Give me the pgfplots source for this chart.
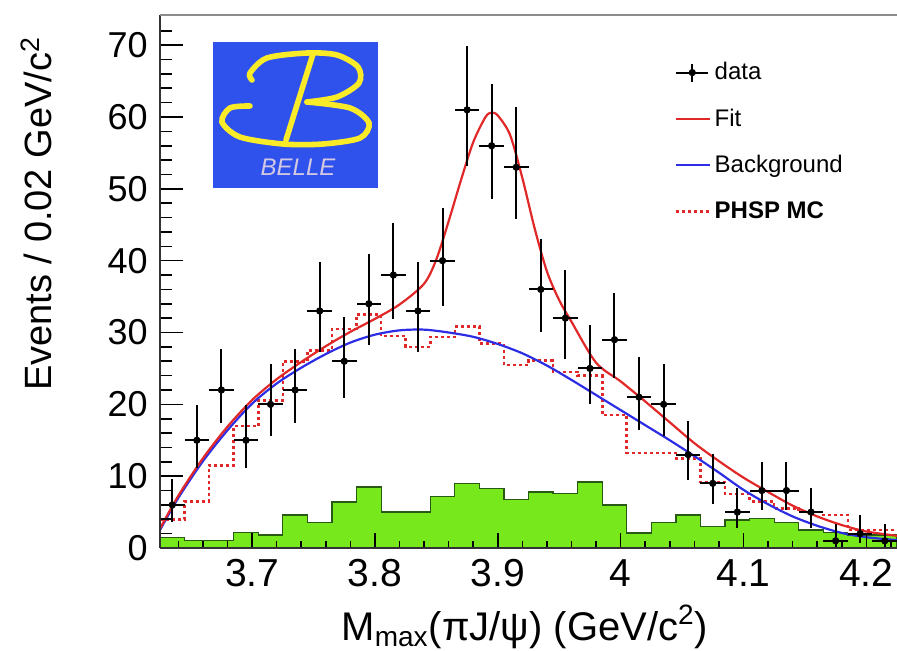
\documentclass[border=0pt]{standalone}
\usepackage{fontspec}
\setmainfont{Liberation Sans}
\usepackage{pgfplots}
\usepackage{pgfplotstable}
\pgfplotsset{compat=1.18}

\definecolor{fitred}{RGB}{225,40,40}
\definecolor{bkgblue}{RGB}{45,45,230}
\definecolor{mcgreen}{RGB}{118,232,28}
\definecolor{mcedge}{RGB}{40,90,20}
\definecolor{logoblue}{RGB}{48,82,236}
\definecolor{logoyellow}{RGB}{250,235,40}
\definecolor{logotext}{RGB}{210,200,225}

% data: bin centre, counts, half bin width, Poisson errors up / down
\pgfplotstableread{
x     y  ex   eup  edn
3.635 6  0.01 3.60 2.38
3.655 15 0.01 4.97 3.83
3.675 22 0.01 5.77 4.65
3.695 15 0.01 4.97 3.83
3.715 20 0.01 5.56 4.43
3.735 22 0.01 5.77 4.65
3.755 33 0.01 6.81 5.71
3.775 26 0.01 6.17 5.06
3.795 34 0.01 6.89 5.80
3.815 38 0.01 7.22 6.13
3.835 33 0.01 6.81 5.71
3.855 40 0.01 7.38 6.29
3.875 61 0.01 8.85 7.79
3.895 56 0.01 8.53 7.46
3.915 53 0.01 8.33 7.26
3.935 36 0.01 7.06 5.97
3.955 32 0.01 6.72 5.62
3.975 25 0.01 6.07 4.96
3.995 29 0.01 6.45 5.35
4.015 21 0.01 5.66 4.54
4.035 20 0.01 5.56 4.43
4.055 13 0.01 4.71 3.55
4.075 9  0.01 4.12 2.94
4.095 5  0.01 3.40 2.15
4.115 8  0.01 3.96 2.76
4.135 8  0.01 3.96 2.76
4.155 5  0.01 3.40 2.15
4.175 1  0.01 2.32 0.83
4.195 2  0.01 2.66 1.29
4.215 1  0.01 2.32 0.83
}\datatab

% histograms: left bin edge, green (sideband), PHSP MC
\pgfplotstableread{
x     g   mc
3.625 1.5 4.0
3.645 1.1 6.5
3.665 1.1 11.5
3.685 2.2 17.0
3.705 1.8 20.5
3.725 4.6 26.0
3.745 3.6 27.5
3.765 6.4 30.5
3.785 8.5 32.5
3.805 5.0 29.5
3.825 5.0 28.0
3.845 7.2 29.4
3.865 9.0 30.8
3.885 8.3 28.5
3.905 6.7 25.5
3.925 7.8 26.1
3.945 7.6 24.5
3.965 9.2 24.0
3.985 6.0 18.5
4.005 2.1 13.2
4.025 3.6 13.2
4.045 4.6 12.5
4.065 3.0 9.2
4.085 3.9 7.5
4.105 4.1 6.5
4.125 3.5 5.5
4.145 2.5 5.0
4.165 2.2 4.6
4.185 1.8 2.5
4.205 1.8 2.5
4.225 1.8 2.5
}\histtab

\pgfplotstableread{
x     y
3.625 2.5
3.64  7.0
3.66  12.1
3.68  16.4
3.70  20.1
3.72  22.9
3.74  25.1
3.76  27.0
3.78  28.6
3.80  29.7
3.82  30.3
3.84  30.4
3.86  30.0
3.88  29.4
3.90  28.4
3.92  27.1
3.94  25.4
3.96  23.4
3.98  21.3
4.00  19.2
4.02  17.1
4.04  15.0
4.06  12.8
4.08  10.5
4.10  8.1
4.12  6.1
4.14  4.4
4.16  3.1
4.18  2.1
4.20  1.5
4.225 1.1
}\bkgtab

\pgfplotstableread{
x     y
3.625 2.7
3.64  7.3
3.66  12.5
3.68  16.9
3.70  20.6
3.72  23.5
3.74  25.9
3.76  28.1
3.78  30.1
3.80  31.9
3.82  33.9
3.84  36.8
3.85  40.2
3.86  45.5
3.87  51.2
3.88  56.5
3.89  60.0
3.895 60.6
3.90  60.2
3.91  57.5
3.92  51.5
3.93  44.5
3.94  38.5
3.95  34.5
3.96  31.5
3.98  25.8
4.00  23.2
4.02  20.4
4.04  17.5
4.06  14.6
4.08  12.1
4.10  9.8
4.12  7.8
4.14  5.9
4.16  4.4
4.18  3.2
4.20  2.3
4.225 1.7
}\fittab

\begin{document}
\begin{tikzpicture}
\begin{axis}[
  width=368.5pt, height=266.5pt, scale only axis,
  xmin=3.625, xmax=4.225, ymin=0, ymax=74.2,
  axis lines*=left, x axis line style={-}, y axis line style={-},
  axis line style={line width=0.9pt, black!80},
  axis on top,
  tick align=inside,
  xtick={3.7,3.8,3.9,4.0,4.1,4.2},
  minor xtick={3.64,3.66,3.68,3.72,3.74,3.76,3.78,3.82,3.84,3.86,3.88,3.92,3.94,3.96,3.98,4.02,4.04,4.06,4.08,4.12,4.14,4.16,4.18,4.22},
  ytick=\empty,
  major tick length=7.5pt, minor tick length=3.5pt,
  every tick/.style={line width=0.8pt, black},
  /pgf/number format/assume math mode=true,
  xticklabel style={font=\fontsize{19.5}{22}\selectfont, inner sep=0pt, yshift=-5.5pt},
  xlabel={M\textsubscript{max}(πJ/ψ) (GeV/c\textsuperscript{2})},
  xlabel style={font=\fontsize{20}{24}\selectfont, at={(axis description cs:0.495,-0.1726)}, anchor=base},
  legend style={draw=none, fill=none, at={(axis description cs:0.69,0.925)}, anchor=north west,
    font=\fontsize{12}{14}\selectfont, row sep=10pt, nodes={inner sep=1.5pt}},
  legend cell align=left,
]
\addlegendimage{legend image code/.code={
  \draw[black, line width=1pt] (0pt,0pt) -- (16pt,0pt);
  \draw[black, line width=1pt] (8pt,-4.5pt) -- (8pt,4.5pt);
  \fill[black] (8pt,0pt) circle (1.6pt);}}
\addlegendentry{data}
\addlegendimage{fitred, line width=1.1pt}
\addlegendentry{Fit}
\addlegendimage{bkgblue, line width=1.1pt}
\addlegendentry{Background}
\addlegendimage{fitred, line width=1.3pt, dash pattern=on 1.5pt off 1.5pt}
\addlegendentry{\textbf{PHSP MC}}

\addplot[forget plot, const plot, fill=mcgreen, draw=mcedge, line width=0.6pt]
  table[x=x, y=g] {\histtab} \closedcycle;
\addplot[forget plot, const plot, fitred, line width=1.3pt, dash pattern=on 1.5pt off 1.5pt]
  table[x=x, y=mc] {\histtab};
\addplot[forget plot, bkgblue, line width=1.1pt, smooth] table {\bkgtab};
\addplot[forget plot, fitred, line width=1.1pt, smooth] table {\fittab};
\addplot[forget plot, black, only marks, mark=*, mark size=1.6pt,
  error bars/.cd, x dir=both, x explicit, y dir=both, y explicit,
  error mark=none, error bar style={line width=1pt, black}]
  table[x=x, y=y, x error=ex, y error plus=eup, y error minus=edn] {\datatab};
\end{axis}

\begin{axis}[
  width=368.5pt, height=266.5pt, scale only axis,
  xmin=3.625, xmax=4.225, ymin=0, ymax=74.2,
  axis lines*=left, x axis line style={-}, y axis line style={-},
  axis line style={line width=0.9pt, black!80},
  tick align=inside,
  xtick=\empty,
  ytick={0,10,20,30,40,50,60,70},
  minor ytick={2,4,6,8,12,14,16,18,22,24,26,28,32,34,36,38,42,44,46,48,52,54,56,58,62,64,66,68,72},
  major tick length=11.5pt, minor tick length=6pt,
  every tick/.style={line width=0.8pt, black},
  /pgf/number format/assume math mode=true,
  yticklabel style={font=\fontsize{18}{20}\selectfont, inner sep=0pt, xshift=-6pt},
  ylabel={Events / 0.02 GeV/c\textsuperscript{2}},
  ylabel style={font=\fontsize{19}{23}\selectfont, at={(axis description cs:-0.168,0.972)}, anchor=east},
]
\end{axis}

\draw[black!45, line width=1pt] (0pt,266.5pt) -- (368.5pt,266.5pt);

% Belle logo, drawn in reference pixel units
\begin{scope}[x=0.5pt, y=-0.5pt, shift={(-80pt,274pt)}]
  \fill[logoblue] (213,42) rectangle (378,188);
  \draw[logoyellow, line width=2.8pt, line cap=round] plot[smooth] coordinates
    {(252,80) (250,73) (267,58) (307,53) (337,55) (358,67) (359,83) (337,97) (307,102)};
  \draw[logoyellow, line width=2.8pt, line cap=round] plot[smooth] coordinates
    {(307,102) (350,108) (369,123) (360,138) (323,144) (283,144) (240,137) (222,122) (230,108) (250,106)};
  \draw[logoyellow, line width=2.8pt, line cap=round] (313,54) -- (286,140);
  \node[logotext, font=\fontsize{12}{12}\itshape\selectfont] at (298,167) {BELLE};
\end{scope}

\pgfresetboundingbox
\useasboundingbox (-80pt,-51pt) rectangle (368.5pt,274pt);
\end{tikzpicture}
\end{document}
